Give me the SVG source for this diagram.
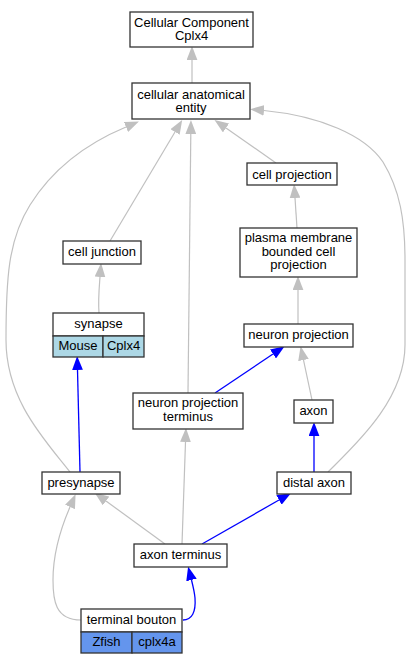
<svg xmlns="http://www.w3.org/2000/svg" width="411" height="664" viewBox="0 0 411 664">
<style>
.box{fill:#fff;stroke:#333;stroke-width:1.3}
.mouse{fill:#add8e6;stroke:#333;stroke-width:1.3}
.zfish{fill:#6495ed;stroke:#333;stroke-width:1.3}
text{font-family:"Liberation Sans",Arial,sans-serif;font-size:13px;fill:#000;text-anchor:middle}
.g{fill:none;stroke:#c0c0c0;stroke-width:1.2}
.b{fill:none;stroke:#0000ff;stroke-width:1.3}
</style>
<defs>
<marker id="ag" markerUnits="userSpaceOnUse" markerWidth="14" markerHeight="11" viewBox="0 0 13 10" refX="0" refY="5" orient="auto"><path d="M0,0 L13,5 L0,10 z" fill="#c0c0c0"/></marker>
<marker id="ab" markerUnits="userSpaceOnUse" markerWidth="14" markerHeight="11" viewBox="0 0 13 10" refX="0" refY="5" orient="auto"><path d="M0,0 L13,5 L0,10 z" fill="#0000ff"/></marker>
</defs>
<rect width="411" height="664" fill="#fff"/>
<g id="connectors">
<path class="g" marker-end="url(#ag)" d="M192,83 L192,60"/>
<path class="g" marker-end="url(#ag)" d="M276,163 L226,128"/>
<path class="g" marker-end="url(#ag)" d="M110,241 L175,132"/>
<path class="g" marker-end="url(#ag)" d="M188,393 L190.8,134"/>
<path class="g" marker-end="url(#ag)" d="M70,472 C45,440 6,400 6,340 C6,280 8,240 30,205 C55,165 90,142 126,127"/>
<path class="g" marker-end="url(#ag)" d="M328,472 C355,445 405,400 405,345 L405,260 C405,220 400,190 383,162 C365,135 320,116 264,110.5"/>
<path class="g" marker-end="url(#ag)" d="M99,313 C98,300 99,290 100,277"/>
<path class="b" marker-end="url(#ab)" d="M80,472 L77.5,370"/>
<path class="g" marker-end="url(#ag)" d="M297,228 L295,198"/>
<path class="g" marker-end="url(#ag)" d="M298,324 L298,290"/>
<path class="b" marker-end="url(#ab)" d="M215,393 L273,354"/>
<path class="g" marker-end="url(#ag)" d="M312,400 L303.5,360"/>
<path class="b" marker-end="url(#ab)" d="M314,472 L314,436"/>
<path class="g" marker-end="url(#ag)" d="M165,544 L106,501"/>
<path class="g" marker-end="url(#ag)" d="M182,544 L185.5,442"/>
<path class="b" marker-end="url(#ab)" d="M202,544 L279,500"/>
<path class="g" marker-end="url(#ag)" d="M81,620 C55,620 53,600 53,580 C53,555 60,530 70,507"/>
<path class="b" marker-end="url(#ab)" d="M183,620 C192,620 196,612 195,598 C194.5,592 193,586 191.5,580"/>
</g>
<g id="node-cellular-component">
<rect class="box" x="130" y="12" width="123" height="35"/>
<text x="191.5" y="26.5">Cellular Component</text>
<text x="191.5" y="40">Cplx4</text>
</g>
<g id="node-cellular-anatomical-entity">
<rect class="box" x="132" y="83" width="118" height="36"/>
<text x="191" y="98.5">cellular anatomical</text>
<text x="191" y="112">entity</text>
</g>
<g id="node-cell-projection">
<rect class="box" x="247" y="163" width="90" height="22"/>
<text x="292" y="178.5">cell projection</text>
</g>
<g id="node-cell-junction">
<rect class="box" x="63" y="241" width="78" height="23"/>
<text x="102" y="255.5">cell junction</text>
</g>
<g id="node-plasma-membrane">
<rect class="box" x="240" y="228" width="117" height="49"/>
<text x="298.5" y="242">plasma membrane</text>
<text x="298.5" y="255.5">bounded cell</text>
<text x="298.5" y="269">projection</text>
</g>
<g id="node-synapse">
<rect class="box" x="53" y="313" width="91" height="23"/>
<rect class="mouse" x="53" y="336" width="50" height="21"/>
<rect class="mouse" x="103" y="336" width="41" height="21"/>
<text x="98.5" y="327.5">synapse</text>
<text x="78" y="349.5">Mouse</text>
<text x="123.5" y="349.5">Cplx4</text>
</g>
<g id="node-neuron-projection">
<rect class="box" x="244" y="324" width="109" height="23"/>
<text x="298.5" y="338.5">neuron projection</text>
</g>
<g id="node-neuron-projection-terminus">
<rect class="box" x="133" y="393" width="110" height="36"/>
<text x="188" y="407">neuron projection</text>
<text x="188" y="421">terminus</text>
</g>
<g id="node-axon">
<rect class="box" x="294" y="400" width="39" height="23"/>
<text x="313.5" y="414.5">axon</text>
</g>
<g id="node-presynapse">
<rect class="box" x="42" y="472" width="78" height="22"/>
<text x="81" y="486.5">presynapse</text>
</g>
<g id="node-distal-axon">
<rect class="box" x="277" y="472" width="74" height="22"/>
<text x="314" y="486.5">distal axon</text>
</g>
<g id="node-axon-terminus">
<rect class="box" x="134" y="544" width="93" height="23"/>
<text x="180.5" y="558.5">axon terminus</text>
</g>
<g id="node-terminal-bouton">
<rect class="box" x="81" y="609" width="101" height="23"/>
<rect class="zfish" x="81" y="632" width="51" height="21"/>
<rect class="zfish" x="132" y="632" width="50" height="21"/>
<text x="131.5" y="623.5">terminal bouton</text>
<text x="106.5" y="645.5">Zfish</text>
<text x="157" y="645.5">cplx4a</text>
</g>
</svg>
